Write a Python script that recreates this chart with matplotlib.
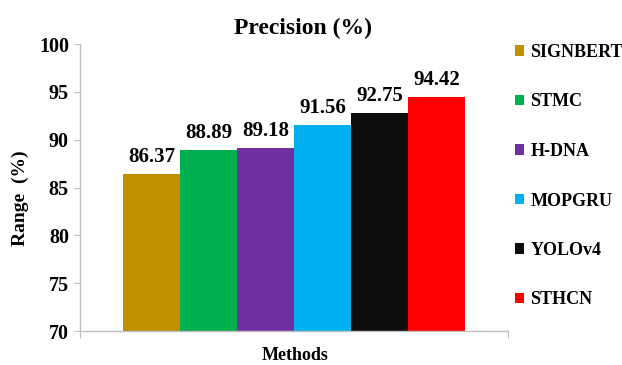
import matplotlib
matplotlib.use("Agg")
import matplotlib.pyplot as plt
from matplotlib.patches import Patch

methods = ["SIGNBERT", "STMC", "H-DNA", "MOPGRU", "YOLOv4", "STHCN"]
precision = [86.37, 88.89, 89.18, 91.56, 92.75, 94.42]
colors = ["#BF9000", "#00B050", "#7030A0", "#00B0F0", "#0D0D0D", "#FF0000"]
y_ticks = [70, 75, 80, 85, 90, 95, 100]

plt.rcParams["font.family"] = ["Liberation Serif", "DejaVu Serif"]
plt.rcParams["font.weight"] = "bold"

fig = plt.figure(figsize=(6.22, 3.65), dpi=100)
ax = fig.add_axes([80 / 622, 1 - 331 / 365, 428 / 622, 287 / 365])

x = list(range(len(methods)))
bars = ax.bar(x, precision, width=1.0, color=colors, bottom=0)
ax.bar_label(bars, labels=[f"{v:.2f}" for v in precision], padding=5,
             fontsize=15, fontweight="bold")

ax.set_ylim(70, 100)
ax.set_xlim(-1.25, len(methods) + 0.25)
ax.set_yticks(y_ticks)
ax.set_yticklabels([str(t) for t in y_ticks], fontsize=14.5, fontweight="bold")
ax.set_xticks([-1.25, len(methods) + 0.25])
ax.set_xticklabels([])

spine_color = "#BFBFBF"
for side in ("top", "right"):
    ax.spines[side].set_visible(False)
for side in ("left", "bottom"):
    ax.spines[side].set_color(spine_color)
    ax.spines[side].set_linewidth(1.0)
ax.tick_params(axis="y", direction="out", length=4, color=spine_color, pad=4)
ax.tick_params(axis="x", direction="out", length=5, color=spine_color)

fig.text(303 / 622, 1 - 28 / 365, "Precision (%)", ha="center", va="center",
         fontsize=17, fontweight="bold")
fig.text(295 / 622, 1 - 355 / 365, "Methods", ha="center", va="center",
         fontsize=13, fontweight="bold")
fig.text(20 / 622, 1 - 198 / 365, "Range  (%)", ha="center", va="center",
         rotation=90, fontsize=14, fontweight="bold")

handles = [Patch(facecolor=c, edgecolor="none") for c in colors]
fig.legend(handles, methods, loc="upper left",
           bbox_to_anchor=(515 / 622, 1 - 44 / 365), frameon=False,
           prop={"size": 13, "weight": "bold"}, handlelength=0.5,
           handleheight=0.5, handletextpad=0.35, labelspacing=1.8,
           borderaxespad=0, borderpad=0)

fig.savefig("out.png", dpi=100)
